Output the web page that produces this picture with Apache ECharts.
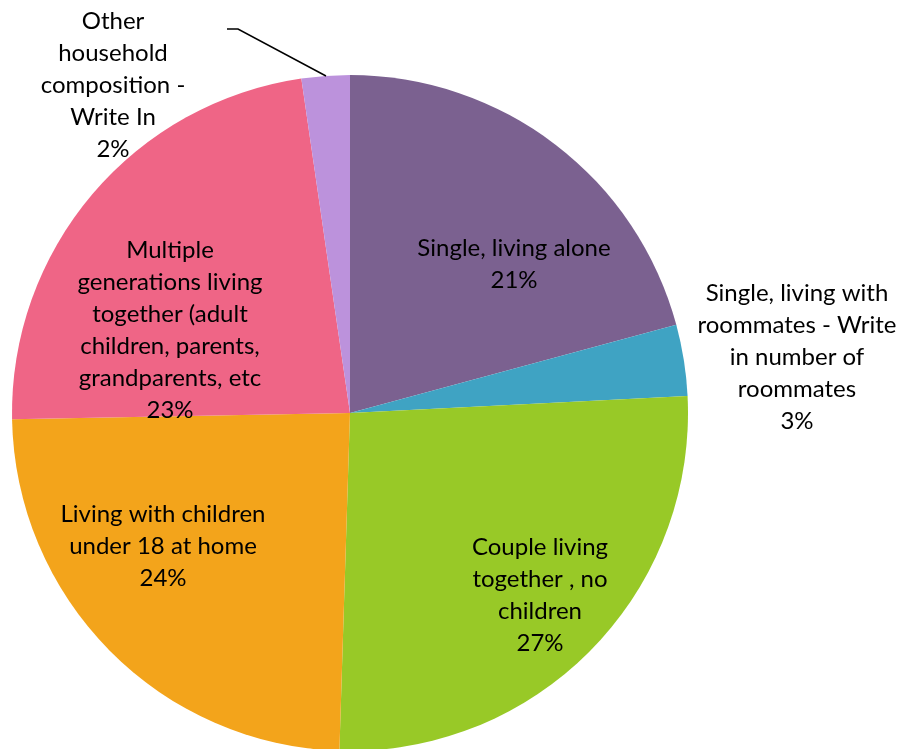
<!DOCTYPE html>
<html>
<head>
<meta charset="utf-8">
<script src="https://cdn.jsdelivr.net/npm/echarts@6/dist/echarts.min.js"></script>
<style>html,body{margin:0;padding:0;background:#fff;}#c{width:904px;height:749px;}</style>
</head>
<body>
<div id="c"></div>
<script>
const categories = [
  "Single, living alone",
  "Single, living with\nroommates - Write\nin number of\nroommates",
  "Couple living\ntogether , no\nchildren",
  "Living with children\nunder 18 at home",
  "Multiple\ngenerations living\ntogether (adult\nchildren, parents,\ngrandparents, etc",
  "Other\nhousehold\ncomposition -\nWrite In"
];
const values = [20.8, 3.4, 26.3, 24.2, 23.0, 2.3];
const percentLabels = ["21%", "3%", "27%", "24%", "23%", "2%"];
const colors = ["#7B6190", "#3FA3C3", "#98C927", "#F3A41B", "#EF6586", "#BC92DC"];

const labelPos = [
  [514, 264], [797, 357], [540, 595], [163, 546], [170, 330], [113, 85]
];

const chart = echarts.init(document.getElementById('c'));
chart.setOption({
  animation: false,
  graphic: [{
    type: 'polyline',
    shape: { points: [[326, 76], [238, 29], [227, 29]] },
    style: { stroke: '#000', lineWidth: 1.5, fill: null },
    z: 10
  }],
  series: [{
    type: 'pie',
    center: [350, 413],
    radius: 338,
    startAngle: 90,
    clockwise: true,
    data: categories.map((n, i) => ({
      name: n, value: values[i],
      itemStyle: { color: colors[i] }
    })),
    label: {
      show: true,
      position: 'inside',
      formatter: p => p.name + '\n' + percentLabels[p.dataIndex],
      fontFamily: 'Lato, "Open Sans", sans-serif',
      fontSize: 24,
      lineHeight: 32,
      color: '#000',
      align: 'center'
    },
    labelLine: { show: false },
    labelLayout: function (p) {
      const pos = labelPos[p.dataIndex];
      return { x: pos[0], y: pos[1], align: 'center', verticalAlign: 'middle' };
    }
  }]
});
</script>
</body>
</html>
